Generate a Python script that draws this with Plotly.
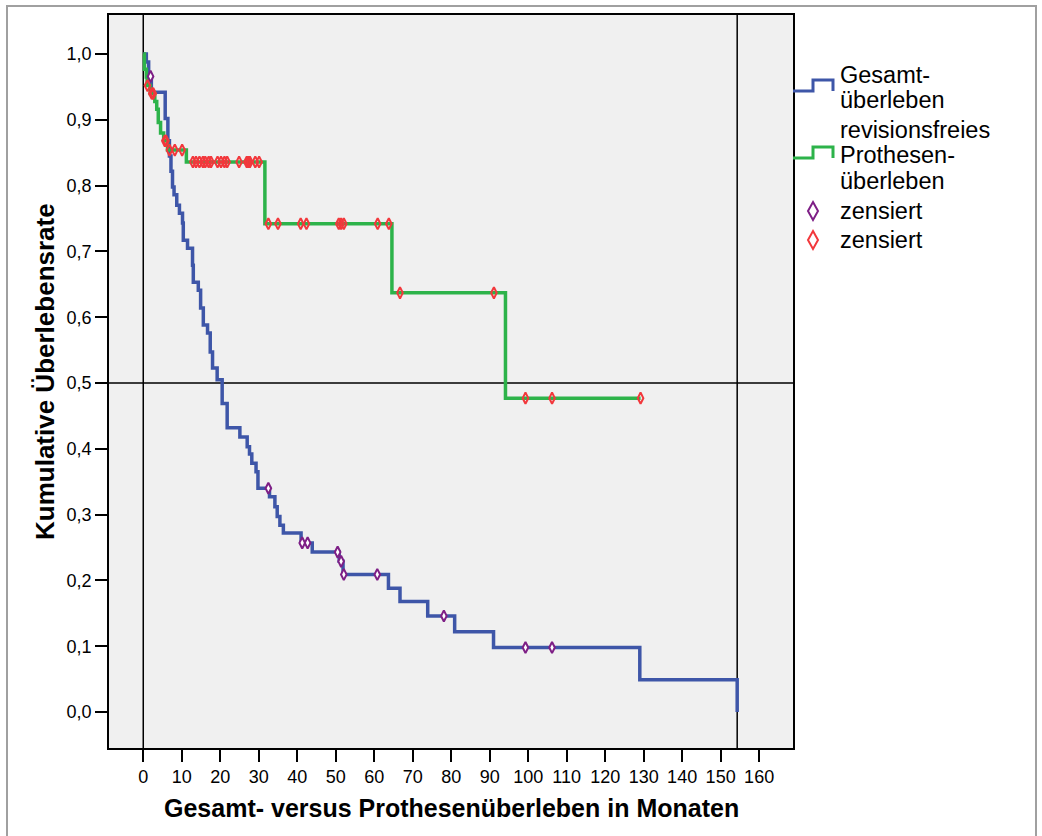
import plotly.graph_objects as go

# ---------------- data ----------------
# Gesamtüberleben: event times (months) and survival after each step
gesamt_t = [0, 0.8, 1.4, 2.1, 5.7, 6.4, 6.8, 7.2, 7.6, 8.0, 8.7, 9.4, 10.2, 10.4, 11.5,
            12.8, 13.0, 14.3, 14.9, 15.6, 16.7, 17.4, 18.0, 19.2, 20.5, 21.8, 25.1,
            27.0, 27.6, 28.2, 29.3, 29.8, 32.8, 34.2, 34.8, 35.5, 36.4, 41.0, 43.9,
            50.9, 51.9, 63.7, 66.7, 73.9, 80.9, 91.0, 129.0, 154.3]
gesamt_s = [1.0, 0.988, 0.966, 0.942, 0.902, 0.868, 0.845, 0.822, 0.798, 0.786, 0.770,
            0.758, 0.743, 0.717, 0.705, 0.679, 0.653, 0.641, 0.614, 0.588, 0.576, 0.547,
            0.523, 0.505, 0.469, 0.432, 0.418, 0.403, 0.392, 0.378, 0.365, 0.340, 0.327,
            0.312, 0.297, 0.284, 0.272, 0.257, 0.243, 0.229, 0.209, 0.188, 0.168, 0.146,
            0.122, 0.098, 0.049, 0.0]
gesamt_censored = [1.9, 32.5, 41.3, 42.7, 50.5, 51.4, 52.1, 60.8, 78.1, 99.3, 106.2]

# revisionsfreies Prothesenüberleben
prothese_t = [0, 0.3, 0.8, 1.0, 1.8, 3.0, 3.5, 3.9, 4.5, 5.3, 6.3, 11.2, 31.6, 64.6, 94.1, 129.2]
prothese_s = [1.0, 0.977, 0.965, 0.952, 0.940, 0.928, 0.916, 0.896, 0.880, 0.868, 0.854,
              0.836, 0.742, 0.637, 0.477, 0.477]
prothese_censored = [1.1, 2.2, 2.4, 2.6, 5.6, 5.9, 6.8, 8.2, 10.1,
                     12.9, 13.7, 14.6, 15.5, 16.1, 17.0, 17.6, 19.3, 20.2, 21.1, 21.8,
                     24.9, 26.9, 27.3, 27.7, 29.1, 30.1,
                     32.5, 35.0, 40.9, 42.4, 50.8, 51.4, 52.1, 60.9, 63.8,
                     66.7, 91.1, 99.3, 106.2, 129.2]

x_ticks = list(range(0, 161, 10))
y_ticks = [i / 10 for i in range(11)]
y_ticktext = [f"{v:.1f}".replace(".", ",") for v in y_ticks]

ref_x = [0, 154.3]
ref_y = [0.5]

# ---------------- styles ----------------
BLUE = "#3E56A8"
GREEN = "#2DB34A"
PURPLE = "#7E1F86"
RED = "#F2383C"
FONT = "Liberation Sans, Arial, sans-serif"

W, H = 1042, 836
L, R, T, B = 109, 249, 15, 88
PW, PH = W - L - R, H - T - B


def px(xp):
    return (xp - L) / PW


def py(yp):
    return (H - B - yp) / PH


def step_value(ts, ss, t):
    val = ss[0]
    for ti, si in zip(ts, ss):
        if ti <= t:
            val = si
    return val


fig = go.Figure()

fig.add_trace(go.Scatter(x=gesamt_t, y=gesamt_s, mode="lines", line=dict(color=BLUE, width=3.5, shape="hv"),
                         showlegend=False, hoverinfo="skip"))
fig.add_trace(go.Scatter(x=prothese_t, y=prothese_s, mode="lines", line=dict(color=GREEN, width=3.5, shape="hv"),
                         showlegend=False, hoverinfo="skip"))
fig.add_trace(go.Scatter(x=gesamt_censored, y=[step_value(gesamt_t, gesamt_s, t) for t in gesamt_censored],
                         mode="markers",
                         marker=dict(symbol="diamond-tall", size=8, color="white", line=dict(color=PURPLE, width=2)),
                         showlegend=False, hoverinfo="skip"))
fig.add_trace(go.Scatter(x=prothese_censored, y=[step_value(prothese_t, prothese_s, t) for t in prothese_censored],
                         mode="markers",
                         marker=dict(symbol="diamond-tall-open", size=8, color=RED, line=dict(color=RED, width=2)),
                         showlegend=False, hoverinfo="skip"))

shapes = []
for xv in ref_x:
    shapes.append(dict(type="line", xref="x", yref="paper", x0=xv, x1=xv, y0=0, y1=1,
                       line=dict(color="black", width=1.5), layer="below"))
for yv in ref_y:
    shapes.append(dict(type="line", xref="paper", yref="y", x0=0, x1=1, y0=yv, y1=yv,
                       line=dict(color="black", width=1.5), layer="below"))

# outer grey frame
shapes.append(dict(type="rect", xref="paper", yref="paper", x0=px(7), x1=px(1036), y0=py(6), y1=py(900),
                   line=dict(color="#A0A0A0", width=2), fillcolor="rgba(0,0,0,0)", layer="below"))


def step_icon(y_low, y_high, color):
    pts = [(793, y_low), (813, y_low), (813, y_high), (833, y_high), (833, y_low)]
    path = "M " + " L ".join(f"{px(a):.5f},{py(b):.5f}" for a, b in pts)
    return dict(type="path", xref="paper", yref="paper", path=path,
                line=dict(color=color, width=3), fillcolor="rgba(0,0,0,0)")


def diamond_icon(cx, cy, color):
    pts = [(cx, cy - 9), (cx + 5, cy), (cx, cy + 9), (cx - 5, cy)]
    path = "M " + " L ".join(f"{px(a):.5f},{py(b):.5f}" for a, b in pts) + " Z"
    return dict(type="path", xref="paper", yref="paper", path=path,
                line=dict(color=color, width=2), fillcolor="rgba(0,0,0,0)")


shapes.append(step_icon(91, 80, BLUE))
shapes.append(step_icon(158, 147, GREEN))
shapes.append(diamond_icon(813, 211, PURPLE))
shapes.append(diamond_icon(813, 240, RED))

annotations = []
legend_text_lines = [("Gesamt-", 75), ("überleben", 100), ("revisionsfreies", 130),
                     ("Prothesen-", 155), ("überleben", 181), ("zensiert", 211), ("zensiert", 240)]
for txt, yp in legend_text_lines:
    annotations.append(dict(text=txt, xref="paper", yref="paper", x=px(838), y=py(yp),
                            xanchor="left", yanchor="middle", showarrow=False,
                            font=dict(family=FONT, size=23.5, color="black")))

annotations.append(dict(text="<b>Gesamt- versus Prothesenüberleben in Monaten</b>", xref="paper", yref="paper",
                        x=0.5, y=py(808), xanchor="center", yanchor="middle", showarrow=False,
                        font=dict(family=FONT, size=25, color="black")))
annotations.append(dict(text="<b>Kumulative Überlebensrate</b>", xref="paper", yref="paper",
                        x=px(45), y=py(372), xanchor="center", yanchor="middle", showarrow=False, textangle=-90,
                        font=dict(family=FONT, size=26, color="black")))

fig.update_layout(
    width=W, height=H,
    margin=dict(l=L, r=R, t=T, b=B, pad=0),
    paper_bgcolor="white",
    plot_bgcolor="#F0F0F0",
    shapes=shapes,
    annotations=annotations,
    showlegend=False,
    font=dict(family=FONT, size=18, color="black"),
    xaxis=dict(range=[-8.9, 168.8], tickvals=x_ticks, ticktext=[str(v) for v in x_ticks],
               ticks="outside", ticklen=12, tickwidth=2, tickcolor="black",
               showline=True, linecolor="black", linewidth=1.5, mirror=True,
               showgrid=False, zeroline=False, tickfont=dict(size=18)),
    yaxis=dict(range=[-0.0547, 1.0593], tickvals=y_ticks, ticktext=y_ticktext,
               ticks="outside", ticklen=12, tickwidth=2, tickcolor="black",
               showline=True, linecolor="black", linewidth=1.5, mirror=True,
               showgrid=False, zeroline=False, tickfont=dict(size=18)),
)

fig.write_html("out.html")
